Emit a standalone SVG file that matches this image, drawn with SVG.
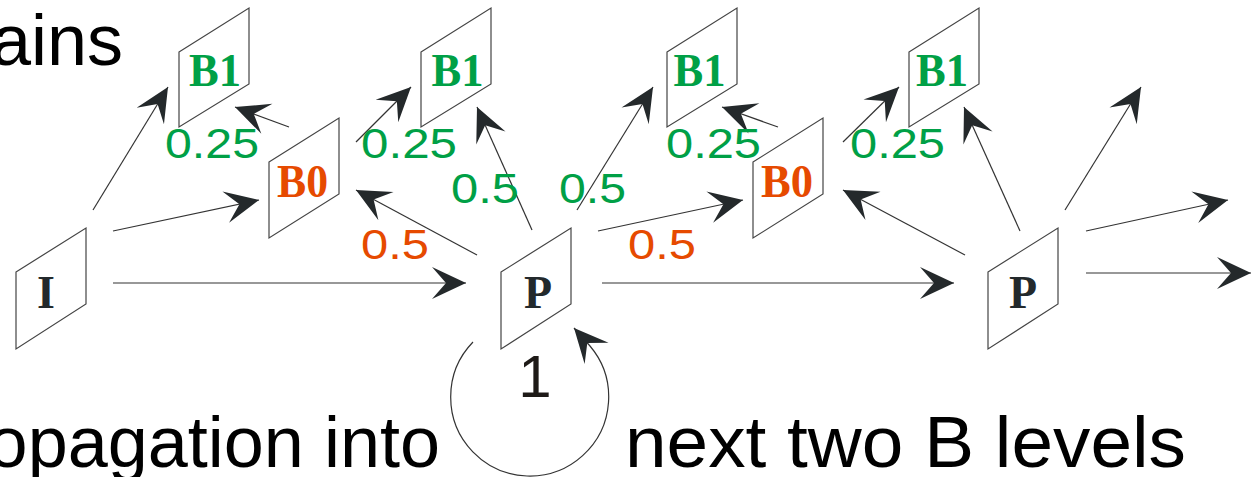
<svg xmlns="http://www.w3.org/2000/svg" width="1254" height="477" viewBox="0 0 1254 477">
<style>
.frame{fill:#fff;stroke:#444;stroke-width:1.2}
.nl{font-family:"Liberation Serif",serif;font-weight:bold;font-size:46px;text-anchor:middle}
.b1{fill:#00a046}
.b0{fill:#e64a00}
.ip{fill:#23292c}
.w{font-family:"Liberation Sans",sans-serif;font-size:42px}
.g{fill:#00a046}
.o{fill:#e64a00}
.big{font-family:"Liberation Sans",sans-serif;font-size:72px;fill:#000}
.c{fill:none;stroke:#333;stroke-width:1.2;marker-end:url(#ah)}
</style>
<defs>
<marker id="ah" markerUnits="userSpaceOnUse" viewBox="-36 -18 38 36" markerWidth="38" markerHeight="36" refX="0" refY="0" orient="auto" overflow="visible">
<path d="M0,0 L-34,-16 L-20,0 L-34,16 Z" fill="#24292b"/>
</marker>
</defs>
<text class="big" x="123" y="65" text-anchor="end">ains</text>
<text class="big" x="440" y="467" text-anchor="end">opagation into</text>
<text class="big" x="625" y="467" textLength="561" lengthAdjust="spacingAndGlyphs">next two B levels</text>
<g id="connectors">
<path class="c" d="M113,283 L466,283"/>
<path class="c" d="M602,283 L954,283"/>
<path class="c" d="M1086,273 L1251,273"/>
<path class="c" d="M1086,231 L1228,200"/>
<path class="c" d="M1065,210 L1141,87"/>
<path class="c" d="M1020,231 L964,107"/>
<path class="c" d="M965,255 L843,190"/>
<path class="c" d="M843,142 L899,87"/>
<path class="c" d="M778,127 L722,107"/>
<path class="c" d="M598,231 L743,200"/>
<path class="c" d="M577,210 L653,87"/>
<path class="c" d="M532,230 L477,107"/>
<path class="c" d="M477,255 L356,190"/>
<path class="c" d="M356,142 L411,87"/>
<path class="c" d="M289,127 L235,107"/>
<path class="c" d="M113,231 L259,200"/>
<path class="c" d="M93,210 L168,87"/>
<path class="c" d="M473,342 A79,79 0 1,0 590,346 L574,328"/>
</g>
<g id="labels">
<text class="w g" x="165" y="158" textLength="94" lengthAdjust="spacingAndGlyphs">0.25</text>
<text class="w g" x="361" y="158" textLength="96" lengthAdjust="spacingAndGlyphs">0.25</text>
<text class="w g" x="666" y="158" textLength="95" lengthAdjust="spacingAndGlyphs">0.25</text>
<text class="w g" x="850" y="158" textLength="95" lengthAdjust="spacingAndGlyphs">0.25</text>
<text class="w g" x="451" y="203" textLength="68" lengthAdjust="spacingAndGlyphs">0.5</text>
<text class="w g" x="559" y="203" textLength="67" lengthAdjust="spacingAndGlyphs">0.5</text>
<text class="w o" x="361" y="259" textLength="68" lengthAdjust="spacingAndGlyphs">0.5</text>
<text class="w o" x="628" y="259" textLength="68" lengthAdjust="spacingAndGlyphs">0.5</text>
<text x="535" y="397" font-family="Liberation Sans, sans-serif" font-size="60" fill="#1e1a17" text-anchor="middle">1</text>
</g>
<g id="node-I">
<polygon class="frame" points="16,272 86,228 86,304 16,349"/>
<text class="nl ip" x="46" y="308">I</text>
</g>
<g id="node-P1">
<polygon class="frame" points="501,272 571,228 571,304 501,349"/>
<text class="nl ip" x="538" y="308">P</text>
</g>
<g id="node-P2">
<polygon class="frame" points="988,272 1058,228 1058,304 988,349"/>
<text class="nl ip" x="1023" y="308">P</text>
</g>
<g id="node-B1a">
<polygon class="frame" points="179,52 249,8 249,84 179,127"/>
<text class="nl b1" x="215" y="86" textLength="52" lengthAdjust="spacingAndGlyphs">B1</text>
</g>
<g id="node-B0a">
<polygon class="frame" points="269,162 339,118 339,194 269,238"/>
<text class="nl b0" x="302.5" y="197" textLength="51" lengthAdjust="spacingAndGlyphs">B0</text>
</g>
<g id="node-B1b">
<polygon class="frame" points="421,52 491,8 491,84 421,127"/>
<text class="nl b1" x="457.5" y="86" textLength="52" lengthAdjust="spacingAndGlyphs">B1</text>
</g>
<g id="node-B1c">
<polygon class="frame" points="667,52 737,8 737,84 667,127"/>
<text class="nl b1" x="699.5" y="86" textLength="52" lengthAdjust="spacingAndGlyphs">B1</text>
</g>
<g id="node-B0b">
<polygon class="frame" points="753,162 823,118 823,194 753,238"/>
<text class="nl b0" x="787" y="197" textLength="52" lengthAdjust="spacingAndGlyphs">B0</text>
</g>
<g id="node-B1d">
<polygon class="frame" points="909,52 979,8 979,84 909,127"/>
<text class="nl b1" x="942" y="86" textLength="52" lengthAdjust="spacingAndGlyphs">B1</text>
</g>
</svg>
